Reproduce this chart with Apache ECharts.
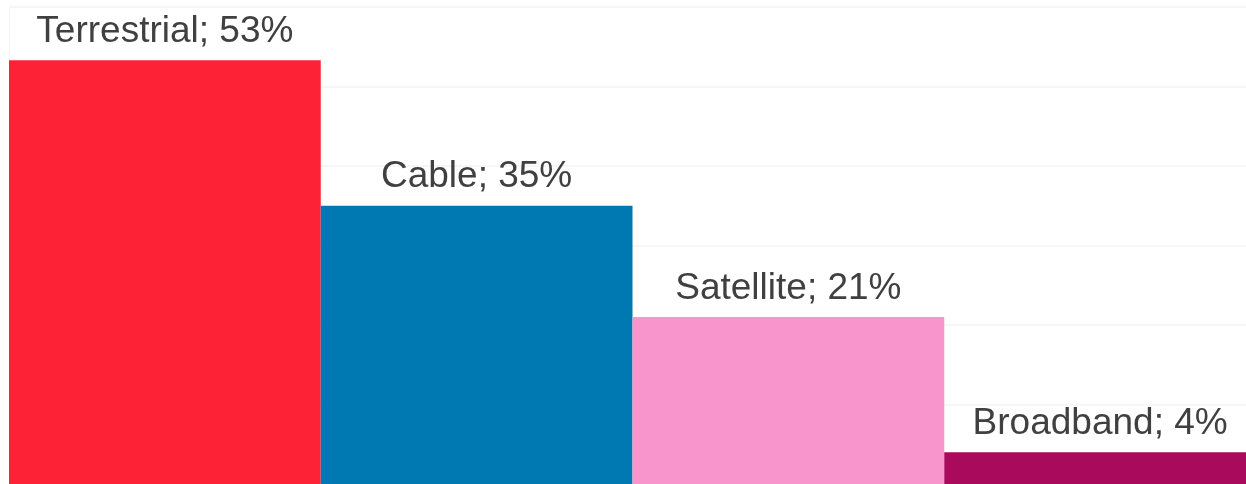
<!DOCTYPE html>
<html><head><meta charset="utf-8">
<script src="https://cdn.jsdelivr.net/npm/echarts@6/dist/echarts.min.js"></script>
<style>html,body{margin:0;padding:0;background:#fff;overflow:hidden}#c{width:1256px;height:484px}</style>
</head><body><div id="c"></div>
<script>
const categories = ["Terrestrial", "Cable", "Satellite", "Broadband"];
const values = [53.3, 35, 21, 4];
const labels = ["53%", "35%", "21%", "4%"];
const colors = ["#FE2236", "#0078B1", "#F895CD", "#A90A5B"];

const chart = echarts.init(document.getElementById('c'), null, {renderer: 'canvas'});
chart.setOption({
  animation: false,
  grid: {left: 9, right: 0, top: 7, bottom: 0, containLabel: false},
  xAxis: {type: 'category', data: categories, show: false},
  yAxis: {
    type: 'value', min: 0, max: 60, interval: 10,
    axisLabel: {show: false}, axisTick: {show: false},
    axisLine: {show: true, lineStyle: {color: '#f3f3f3', width: 1}},
    splitLine: {lineStyle: {color: '#f6f6f6', width: 2}}
  },
  series: [{
    type: 'bar', barCategoryGap: 0,
    data: values.map((v, i) => ({value: v, itemStyle: {color: colors[i]}})),
    label: {
      show: true, position: 'top', distance: 10,
      fontFamily: 'Liberation Sans, Arial, sans-serif', fontSize: 37, color: '#404040',
      formatter: p => categories[p.dataIndex] + '; ' + labels[p.dataIndex]
    }
  }]
});
</script></body></html>
